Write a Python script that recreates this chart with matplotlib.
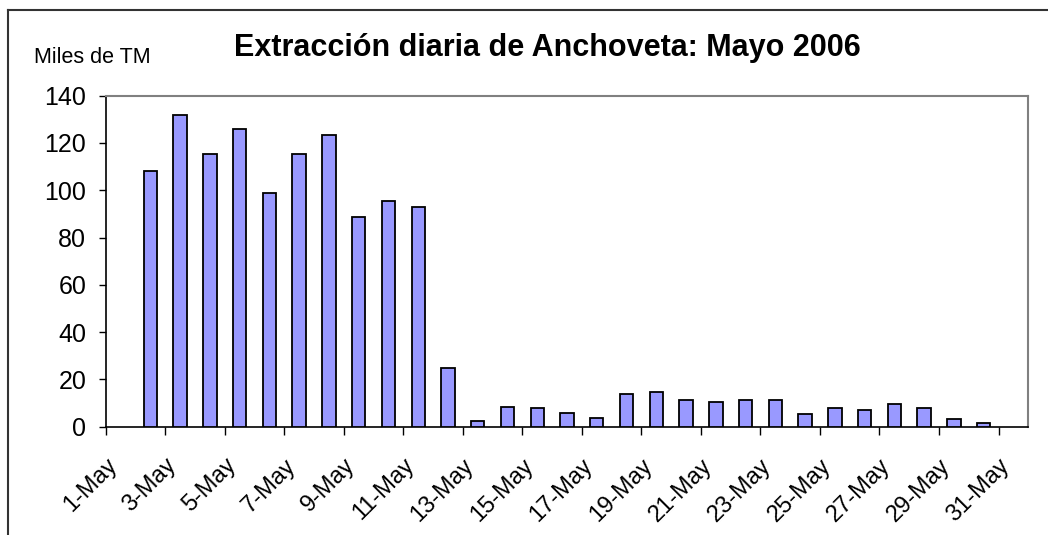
import numpy as np
import matplotlib.pyplot as plt
from matplotlib.lines import Line2D

# Extraccion diaria (miles de TM), 2-May a 30-May 2006
dias = list(range(2, 31))
miles_tm = [108, 132, 115.5, 126, 99, 115.5, 123.5, 88.5, 95.5, 93,
            25, 2.5, 8.5, 7.8, 6, 3.5, 14, 14.8, 11.2, 10.4,
            11.2, 11.2, 5.2, 7.8, 6.9, 9.6, 7.8, 3.4, 1.7]
tick_dias = list(range(1, 32, 2))
tick_labels = [f'{d}-May' for d in tick_dias]

plt.rcParams['font.family'] = ['Liberation Sans', 'DejaVu Sans']

fig = plt.figure(figsize=(10.48, 5.35), dpi=100)
ax = fig.add_axes([0.1009, 0.2024, 0.9812 - 0.1009, 0.8211 - 0.2024])

# barras centradas en medio del dia (eje de fechas estilo Excel)
x = np.array(dias) + 0.5
ax.bar(x, miles_tm, width=0.45, color='#9999FF', edgecolor='black', linewidth=1.3, zorder=3)

ax.set_xlim(1, 32)
ax.set_ylim(0, 140)
ax.set_yticks(range(0, 141, 20))
ax.set_xticks(tick_dias)
ax.set_xticklabels(tick_labels, rotation=45, ha='right', rotation_mode='anchor')

ax.tick_params(axis='y', direction='out', length=5, width=1, pad=9, labelsize=18)
ax.tick_params(axis='x', direction='out', length=6, width=1, pad=14, labelsize=17)

for side in ['left', 'bottom']:
    ax.spines[side].set_color('black')
    ax.spines[side].set_linewidth(1.2)
for side in ['top', 'right']:
    ax.spines[side].set_color('#808080')
    ax.spines[side].set_linewidth(1.5)

fig.text(547 / 1048, 1 - 56 / 535, 'Extracción diaria de Anchoveta: Mayo 2006',
         ha='center', va='baseline', fontsize=22, fontweight='bold')
fig.text(34 / 1048, 1 - 63 / 535, 'Miles de TM', ha='left', va='baseline', fontsize=15.5)

# marco exterior del grafico (solo se ve arriba y a la izquierda)
fig.add_artist(Line2D([8 / 1048, 1], [1 - 10 / 535, 1 - 10 / 535], color='#333333', lw=1.5))
fig.add_artist(Line2D([8 / 1048, 8 / 1048], [0, 1 - 10 / 535], color='#333333', lw=1.5))

fig.savefig('out.png', dpi=100)
